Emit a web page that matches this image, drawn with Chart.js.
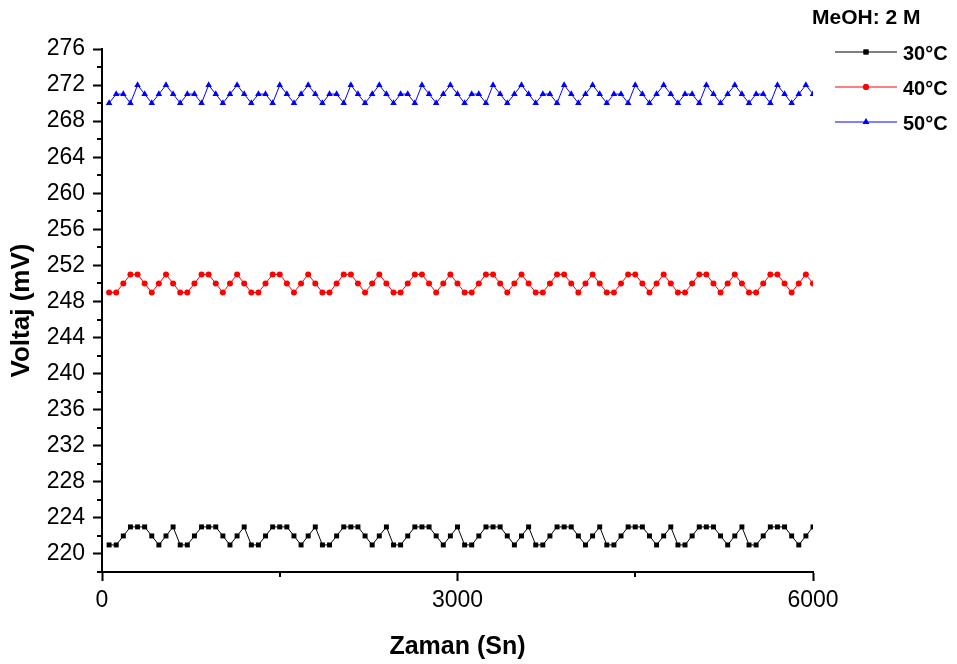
<!DOCTYPE html>
<html><head><meta charset="utf-8">
<script src="https://cdn.jsdelivr.net/npm/chart.js@4/dist/chart.umd.min.js"></script>
<style>html,body{margin:0;padding:0;background:#fff}#wrap{width:957px;height:664px;position:relative}</style>
</head><body><div id="wrap"><canvas id="c" width="957" height="664"></canvas></div>
<script>
// ---- data ----
const timeSn = [60,120,180,240,300,360,420,480,540,600,
 660,720,780,840,900,960,1020,1080,1140,1200,
 1260,1320,1380,1440,1500,1560,1620,1680,1740,1800,
 1860,1920,1980,2040,2100,2160,2220,2280,2340,2400,
 2460,2520,2580,2640,2700,2760,2820,2880,2940,3000,
 3060,3120,3180,3240,3300,3360,3420,3480,3540,3600,
 3660,3720,3780,3840,3900,3960,4020,4080,4140,4200,
 4260,4320,4380,4440,4500,4560,4620,4680,4740,4800,
 4860,4920,4980,5040,5100,5160,5220,5280,5340,5400,
 5460,5520,5580,5640,5700,5760,5820,5880,5940,6000];
const v30C = [221,221,222,223,223,223,222,221,222,223,
 221,221,222,223,223,223,222,221,222,223,
 221,221,222,223,223,223,222,221,222,223,
 221,221,222,223,223,223,222,221,222,223,
 221,221,222,223,223,223,222,221,222,223,
 221,221,222,223,223,223,222,221,222,223,
 221,221,222,223,223,223,222,221,222,223,
 221,221,222,223,223,223,222,221,222,223,
 221,221,222,223,223,223,222,221,222,223,
 221,221,222,223,223,223,222,221,222,223];
const v40C = [249,249,250,251,251,250,249,250,251,250,
 249,249,250,251,251,250,249,250,251,250,
 249,249,250,251,251,250,249,250,251,250,
 249,249,250,251,251,250,249,250,251,250,
 249,249,250,251,251,250,249,250,251,250,
 249,249,250,251,251,250,249,250,251,250,
 249,249,250,251,251,250,249,250,251,250,
 249,249,250,251,251,250,249,250,251,250,
 249,249,250,251,251,250,249,250,251,250,
 249,249,250,251,251,250,249,250,251,250];
const v50C = [270,271,271,270,272,271,270,271,272,271,
 270,271,271,270,272,271,270,271,272,271,
 270,271,271,270,272,271,270,271,272,271,
 270,271,271,270,272,271,270,271,272,271,
 270,271,271,270,272,271,270,271,272,271,
 270,271,271,270,272,271,270,271,272,271,
 270,271,271,270,272,271,270,271,272,271,
 270,271,271,270,272,271,270,271,272,271,
 270,271,271,270,272,271,270,271,272,271,
 270,271,271,270,272,271,270,271,272,271];
const seriesLabels = ['30°C','40°C','50°C'];
const legendTitle = 'MeOH: 2 M';
const xMajorTicks = [0,3000,6000];
const xMinorTicks = [1500,4500];
const yMajorTicks = [220,224,228,232,236,240,244,248,252,256,260,264,268,272,276];
const yMinorTicks = [218,222,226,230,234,238,242,246,250,254,258,262,266,270,274];

// ---- chart ----
const FONT = "'Liberation Sans', Arial, sans-serif";
const pts = arr => arr.map((v,i)=>({x:timeSn[i], y:v}));

const minorTicks = {
  id:'minorTicks',
  afterDraw(chart){
    const ctx = chart.ctx, xs = chart.scales.x, ys = chart.scales.y, a = chart.chartArea;
    ctx.save();
    ctx.strokeStyle = '#000'; ctx.lineWidth = 2;
    ctx.beginPath();
    yMinorTicks.forEach(v=>{ const y = Math.round(ys.getPixelForValue(v)); ctx.moveTo(a.left-5, y); ctx.lineTo(a.left, y); });
    xMinorTicks.forEach(v=>{ const x = Math.round(xs.getPixelForValue(v)); ctx.moveTo(x, a.bottom); ctx.lineTo(x, a.bottom+5); });
    ctx.stroke();
    ctx.restore();
  }
};

const customLegend = {
  id:'customLegend',
  afterDraw(chart){
    const ctx = chart.ctx;
    ctx.save();
    ctx.fillStyle = '#000';
    ctx.font = "bold 21px " + FONT;
    ctx.textBaseline = 'middle';
    ctx.textAlign = 'left';
    ctx.fillText(legendTitle, 812, 18);
    chart.data.datasets.forEach((ds, i)=>{
      const y = 52 + i*35;
      ctx.strokeStyle = ds.borderColor; ctx.lineWidth = 1;
      ctx.beginPath(); ctx.moveTo(835, y); ctx.lineTo(897, y); ctx.stroke();
      ctx.fillStyle = ds.pointBackgroundColor;
      Chart.helpers.drawPoint(ctx, {pointStyle: ds.pointStyle, radius: ds.pointRadius, rotation: 0, borderWidth: 0}, 866, y);
      ctx.fill();
      ctx.fillStyle = '#000';
      ctx.font = "bold 20px " + FONT;
      ctx.fillText(ds.label, 903, y + 2);
    });
    ctx.restore();
  }
};

const mk = (label, arr, color, style, r) => ({
  label, data: pts(arr), borderColor: color, backgroundColor: color,
  pointBackgroundColor: color, pointBorderColor: color, pointBorderWidth: 0,
  pointStyle: style, pointRadius: r, borderWidth: 1, tension: 0
});

new Chart(document.getElementById('c'), {
  type: 'line',
  data: { datasets: [
    mk(seriesLabels[0], v30C, '#000000', 'rect', 3.5),
    mk(seriesLabels[1], v40C, '#ff0000', 'circle', 3),
    mk(seriesLabels[2], v50C, '#0000ff', 'triangle', 3.8)
  ]},
  options: {
    responsive: false, devicePixelRatio: 1, animation: false,
    layout: { padding: { top: 49, right: 144, left: 0, bottom: 0 } },
    plugins: { legend: { display: false }, tooltip: { enabled: false } },
    scales: {
      x: {
        type: 'linear', min: 0, max: 6000,
        afterBuildTicks: s => { s.ticks = xMajorTicks.map(v=>({value:v})); },
        afterFit: s => { s.height = 92; },
        ticks: { color:'#000', font:{family:FONT, size:23}, padding: 6, maxRotation:0, autoSkip:false, callback: v => String(v) },
        grid: { drawOnChartArea:false, drawTicks:true, tickLength:9, tickWidth:2, tickColor:'#000' },
        border: { display:true, color:'#000', width:2 },
        title: { display:true, text:'Zaman (Sn)', color:'#000', font:{family:FONT, size:25, weight:'bold'}, padding:{top:0, bottom:2} }
      },
      y: {
        type: 'linear', min: 218, max: 276,
        afterBuildTicks: s => { s.ticks = yMajorTicks.map(v=>({value:v})); },
        afterFit: s => { s.width = 102; },
        ticks: { color:'#000', font:{family:FONT, size:23}, padding: 8, autoSkip:false, callback: v => String(v) },
        grid: { drawOnChartArea:false, drawTicks:true, tickLength:9, tickWidth:2, tickColor:'#000' },
        border: { display:true, color:'#000', width:2 },
        title: { display:true, text:'Voltaj (mV)', color:'#000', font:{family:FONT, size:26, weight:'bold'}, padding:{top:6, bottom:0} }
      }
    }
  },
  plugins: [minorTicks, customLegend]
});
</script></body></html>
